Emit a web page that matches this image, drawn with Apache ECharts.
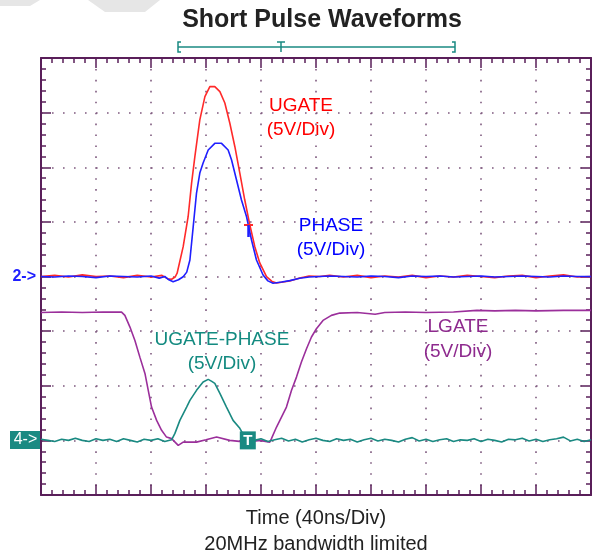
<!DOCTYPE html>
<html lang="en">
<head>
<meta charset="UTF-8">
<title>Short Pulse Waveforms</title>
<style>
    html, body { margin: 0; padding: 0; background: #fff; }
    #main { width: 598px; height: 560px; }
</style>
</head>
<body>
<div id="main"></div>
<script src="https://cdn.jsdelivr.net/npm/echarts@6/dist/echarts.min.js"></script>
<script>
// time in ns (40ns/div), values in volts (5V/div)
var ugateT = [0,10,20,30,40,50,60,70,80,88,92,95,97.5,99,103.4,107,109.5,111.9,115.5,119.2,122.8,126.4,130.1,133.7,137.3,141,144.6,148.2,151.9,155.5,159.1,164,168,171.3,176,180.9,188.2,195,202.7,210,220,230,240,250,260,270,280,290,300,310,320,330,340,350,360,370,380,390,400];
var ugateV = [0,0.1,-0.05,0.15,0,0.05,-0.1,0.1,-0.05,0.1,-0.2,-0.25,-0.05,0.3,2.73,5.47,8.53,10.97,14.33,16.46,17.38,17.38,16.92,15.88,14.05,11.88,9.47,7.0,4.71,2.73,1.24,-0.02,-0.45,-0.6,-0.5,-0.41,-0.14,0.05,0,0.1,-0.05,0.1,-0.1,0.05,-0.05,0.1,-0.1,0.05,-0.05,0.1,0,-0.1,0.05,0.1,-0.1,0.05,0.15,-0.05,0];

var phaseT = [0,10,20,30,40,50,60,70,80,86,90,93,96.1,100,103.4,106,108.3,110.7,113.1,115.5,117.9,121.6,126.4,131.3,136.1,138.6,142.2,145.8,149.5,153.1,156.7,161.5,165,168.8,175,180.9,188.2,195,202.7,210,220,230,240,250,260,270,280,290,300,310,320,330,340,350,360,370,380,390,400];
var phaseV = [0,-0.05,0.05,0,-0.1,0.05,0,-0.05,0.05,-0.15,0,-0.3,-0.48,-0.3,-0.02,0.4,1.51,4.56,7.64,9.47,10.39,11.58,12.19,12.19,11.58,10.66,8.83,7.0,5.47,3.34,1.51,0.14,-0.4,-0.62,-0.5,-0.38,-0.16,-0.05,0,0.05,0,-0.05,0.05,0,-0.1,0.05,0,0.05,-0.05,0,0.05,-0.05,0,0.05,0,-0.05,0.05,0,0];

var diffT = [0,5,10,15,20,25,30,35,40,45,50,55,60,65,70,75,80,85,90,95,
    97.4,101,105.9,108.3,113.1,117.9,121.6,124.2,126.4,130.1,134.9,139.7,144.6,148.2,151.9,
    155,160,165,170,175,180,185,190,195,200,205,210,215,220,225,230,235,240,245,250,
    255,260,265,270,275,280,285,290,295,300,305,310,315,320,325,330,335,340,345,350,
    355,360,365,370,375,380,385,390,395,400];
var diffV = [0.1,0,-0.1,0.1,0,0.2,0,-0.1,0.15,0,0.1,-0.1,0.15,0,-0.15,0.1,0,0.15,-0.1,0.05,
    0.64,1.83,3.05,3.66,4.58,5.34,5.58,5.40,5.22,4.30,3.05,1.83,1.10,0.30,0.09,
    0,0.15,-0.1,0.05,0.2,-0.05,0.1,-0.15,0.05,0.2,0,-0.1,0.15,0,0.1,-0.15,0.05,0.2,-0.05,0.1,
    0,-0.15,0.1,0.25,-0.05,0.1,-0.1,0.05,0.15,-0.1,0.05,0,0.15,-0.1,0.1,0,-0.15,0.1,0.05,0.2,
    -0.05,0.1,-0.1,0.05,0.15,0.3,-0.05,0.1,-0.1,0.05];

var lgateT = [0,15,30,45,58.6,61,64.7,68.3,71.9,75.6,78,80.4,84.1,87.7,91.3,95,99.8,103.4,113.1,120,127.7,137.3,149.5,159.1,166.4,167.6,171.3,174.9,178.5,182.2,185.8,189.4,193.1,196.7,200.3,205.1,211.2,217.3,230,243,250,265,280,300,317,330,345,360,380,400];
var lgateV = [11.7,11.75,11.7,11.75,11.74,11.44,10.37,9.15,7.62,6.13,4.58,3.05,1.83,0.92,0.30,0.16,-0.46,-0.16,-0.16,0.05,0.30,0,-0.16,0,-0.16,0.16,1.22,2.13,3.05,4.58,5.79,7.17,8.39,9.46,10.22,10.98,11.44,11.65,11.7,11.55,11.7,11.75,11.7,11.75,11.9,11.85,11.9,11.85,11.9,11.9];

var trigTime = 150.4;   // trigger point on the UGATE-PHASE trace
var lowerGround = -15;  // channel 3/4 ground, 3 div below centre

var frame = '#5a1f5a';
var red = '#ff2a2a', blue = '#1f1fff', teal = '#1a8a82', purple = '#9b2f9b';

function pairs(t, v, off) {
    return t.map(function (x, i) { return [x, v[i] + off]; });
}

function edgeAxis(pos, isX) {
    return {
        type: 'value',
        position: pos,
        min: isX ? 0 : -20,
        max: isX ? 400 : 20,
        interval: isX ? 40 : 5,
        axisLine: { show: true, onZero: false, lineStyle: { color: frame, width: 2 } },
        axisTick: { show: true, inside: true, length: 10, lineStyle: { color: frame, width: 1.5 } },
        minorTick: { show: true, splitNumber: 5, length: 5, lineStyle: { color: frame, width: 1.5 } },
        axisLabel: { show: false },
        splitLine: { show: false }
    };
}

var xBottom = edgeAxis('bottom', true);
xBottom.splitLine = { show: true, lineStyle: { color: '#7f5a7f', width: 1.6, type: [1.6, 9.325] } };
var yLeft = edgeAxis('left', false);
yLeft.splitLine = { show: true, lineStyle: { color: '#7f5a7f', width: 1.6, type: [1.6, 9.4] } };

function trace(name, data, color) {
    return {
        name: name, type: 'line', data: data, showSymbol: false, silent: true,
        lineStyle: { color: color, width: 1.6 }, itemStyle: { color: color },
        animation: false
    };
}

function label(text, x, y, color) {
    return { type: 'text', x: x, y: y, z: 50,
        style: { text: text, fill: color, font: '19px "Liberation Sans", Arial, sans-serif', align: 'center', verticalAlign: 'middle' } };
}

var chart = echarts.init(document.getElementById('main'));

var diffSeries = trace('UGATE-PHASE', pairs(diffT, diffV, lowerGround), teal);
diffSeries.markPoint = {
    symbol: 'rect', symbolSize: [16, 18], silent: true, animation: false,
    itemStyle: { color: teal },
    label: { show: true, formatter: 'T', color: '#fff', fontWeight: 'bold', fontSize: 15, fontFamily: 'Liberation Sans' },
    data: [{ coord: [trigTime, lowerGround] }]
};

var option = {
    animation: false,
    title: {
        text: 'Short Pulse Waveforms', left: 317, top: 3, textAlign: 'center',
        textStyle: { fontSize: 25, fontWeight: 'bold', color: '#222', fontFamily: '"Liberation Sans", Arial, sans-serif' }
    },
    grid: { left: 41, right: 7, top: 58, bottom: 65 },
    xAxis: [xBottom, edgeAxis('top', true)],
    yAxis: [yLeft, edgeAxis('right', false)],
    series: [
        trace('LGATE', pairs(lgateT, lgateV, lowerGround), purple),
        diffSeries,
        trace('UGATE', pairs(ugateT, ugateV, 0), red),
        trace('PHASE', pairs(phaseT, phaseV, 0), blue)
    ],
    graphic: [
        // faint shapes at the top-left corner of the scan
        { type: 'polygon', shape: { points: [[0, 0], [40, 0], [30, 6], [0, 6]] }, style: { fill: '#e6e6e6' } },
        { type: 'polygon', shape: { points: [[88, 0], [160, 0], [145, 12], [105, 12]] }, style: { fill: '#e6e6e6' } },
        // record window bracket
        { type: 'line', shape: { x1: 178, y1: 47, x2: 455, y2: 47 }, style: { stroke: teal, lineWidth: 1.5 } },
        { type: 'polyline', shape: { points: [[181, 42], [178, 42], [178, 52], [181, 52]] }, style: { stroke: teal, lineWidth: 1.5, fill: null } },
        { type: 'polyline', shape: { points: [[452, 42], [455, 42], [455, 52], [452, 52]] }, style: { stroke: teal, lineWidth: 1.5, fill: null } },
        { type: 'polyline', shape: { points: [[277, 42], [285, 42]] }, style: { stroke: teal, lineWidth: 1.5 } },
        { type: 'line', shape: { x1: 281, y1: 42, x2: 281, y2: 52 }, style: { stroke: teal, lineWidth: 1.5 } },
        // channel markers
        { type: 'text', x: 36, y: 277, style: { text: '2->', fill: blue, font: 'bold 16px "Liberation Sans", Arial', align: 'right', verticalAlign: 'middle' } },
        { type: 'rect', shape: { x: 10, y: 431, width: 31, height: 18 }, style: { fill: teal } },
        { type: 'text', x: 25.5, y: 440, style: { text: '4->', fill: '#fff', font: '16px "Liberation Sans", Arial', align: 'center', verticalAlign: 'middle' } },
        // trigger level marker
        { type: 'line', z: 60, shape: { x1: 244, y1: 225, x2: 253, y2: 225 }, style: { stroke: red, lineWidth: 2 } },
        { type: 'line', z: 60, shape: { x1: 248.5, y1: 225, x2: 248.5, y2: 237 }, style: { stroke: blue, lineWidth: 2.5 } },
        // trace labels
        label('UGATE', 301, 106, '#ff0000'),
        label('(5V/Div)', 301, 130, '#ff0000'),
        label('PHASE', 331, 226, '#0000ff'),
        label('(5V/Div)', 331, 250, '#0000ff'),
        label('UGATE-PHASE', 222, 340, '#138a80'),
        label('(5V/Div)', 222, 364, '#138a80'),
        label('LGATE', 458, 327, '#8e2a8e'),
        label('(5V/Div)', 458, 352, '#8e2a8e'),
        // bottom captions
        { type: 'text', x: 316, y: 518, style: { text: 'Time (40ns/Div)', fill: '#222', font: '20px "Liberation Sans", Arial', align: 'center', verticalAlign: 'middle' } },
        { type: 'text', x: 316, y: 544, style: { text: '20MHz bandwidth limited', fill: '#222', font: '20px "Liberation Sans", Arial', align: 'center', verticalAlign: 'middle' } }
    ]
};

chart.setOption(option);
</script>
</body>
</html>
